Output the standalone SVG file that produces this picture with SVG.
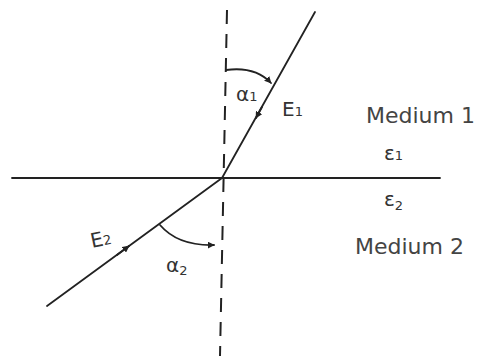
<svg xmlns="http://www.w3.org/2000/svg" width="496" height="358" viewBox="0 0 496 358">
<style>
.ln{stroke:#222;stroke-width:1.8;fill:none;stroke-linecap:round}
.dash{stroke:#222;stroke-width:2;fill:none;stroke-dasharray:14 10}
.t{font-family:"DejaVu Sans",sans-serif;fill:#333;font-size:20px}
.m{font-size:22px;fill:#444}
.s{font-size:13px}
</style>
<defs>
<marker id="ah" viewBox="0 0 10 10" refX="9" refY="5" markerWidth="7" markerHeight="7" orient="auto" markerUnits="userSpaceOnUse">
<path d="M0,0 L10,5 L0,10 z" fill="#222"/>
</marker>
</defs>
<rect width="496" height="358" fill="#fff"/>
<g id="connectors">
<line class="ln" x1="12" y1="178" x2="440" y2="178"/>
<line class="dash" x1="227" y1="10" x2="220" y2="356"/>
<line class="ln" x1="315" y1="12" x2="222" y2="178"/>
<line class="ln" x1="222" y1="178" x2="47" y2="306"/>
<path class="ln" d="M262,107 L256,118" marker-end="url(#ah)"/>
<path class="ln" d="M117,255 L129,246" marker-end="url(#ah)"/>
<path class="ln" d="M226,70 Q255,66 271,83" marker-end="url(#ah)"/>
<path class="ln" d="M160,225 Q178,246 214,245" marker-end="url(#ah)"/>
</g>
<g id="alpha1"><text class="t" x="236" y="101">α<tspan class="s">1</tspan></text></g>
<g id="E1"><text class="t" x="282" y="116">E<tspan class="s">1</tspan></text></g>
<g id="alpha2"><text class="t" x="166" y="272">α<tspan class="s" dy="3">2</tspan></text></g>
<g id="E2"><text class="t" x="90" y="246" transform="rotate(-12 100 238)">E<tspan class="s">2</tspan></text></g>
<g id="medium1"><text class="t m" x="366" y="123">Medium 1</text></g>
<g id="eps1"><text class="t" x="384" y="160">ε<tspan class="s">1</tspan></text></g>
<g id="eps2"><text class="t" x="384" y="206">ε<tspan class="s" dy="4">2</tspan></text></g>
<g id="medium2"><text class="t m" x="355" y="254">Medium 2</text></g>
</svg>
